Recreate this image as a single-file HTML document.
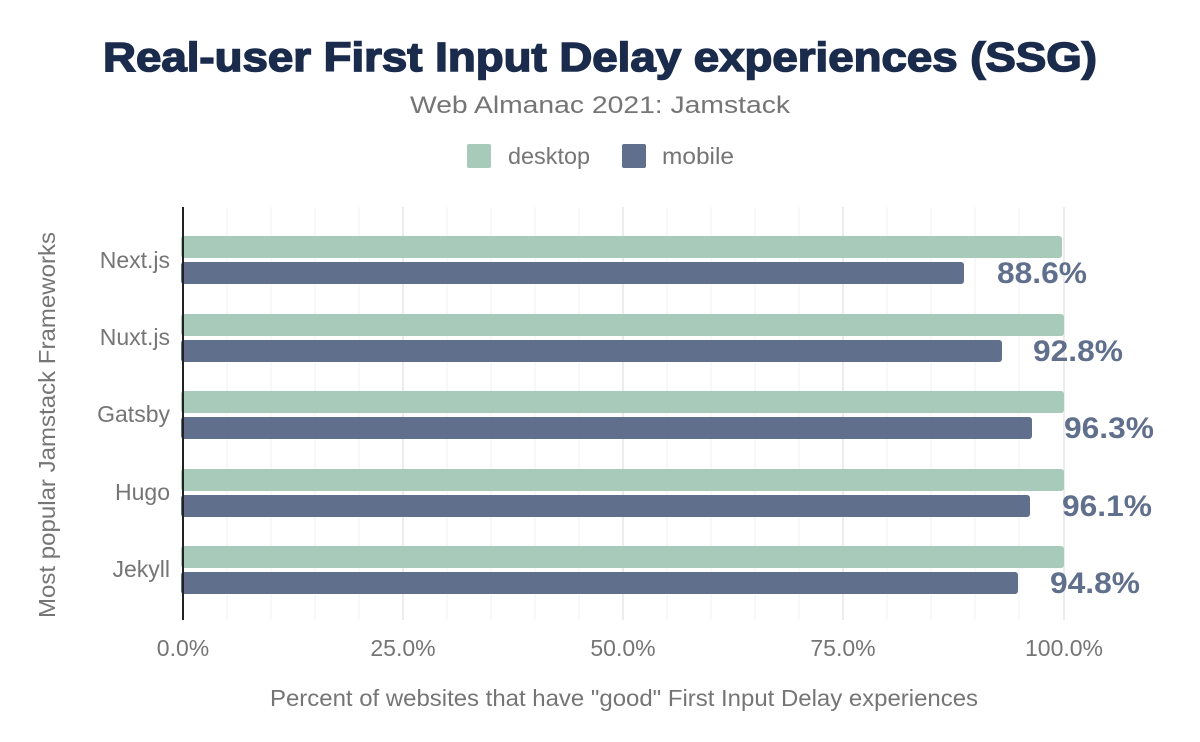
<!DOCTYPE html>
<html><head><style>body{margin:0;background:#fff}svg{display:block}</style></head><body>
<svg width="1200" height="742" xmlns="http://www.w3.org/2000/svg" font-family="Liberation Sans, sans-serif">
<rect width="1200" height="742" fill="#fff"/>
<text x="600" y="71" text-anchor="middle" font-size="41" font-weight="bold" fill="#1a2b4c" textLength="994" lengthAdjust="spacingAndGlyphs" stroke="#1a2b4c" stroke-width="1.5">Real-user First Input Delay experiences (SSG)</text>
<text x="600" y="113" text-anchor="middle" font-size="24" fill="#757575" textLength="380" lengthAdjust="spacingAndGlyphs">Web Almanac 2021: Jamstack</text>
<rect x="467" y="144" width="24" height="24" rx="2" fill="#a8cabb"/>
<text x="508" y="164" font-size="23" fill="#757575" textLength="82" lengthAdjust="spacingAndGlyphs">desktop</text>
<rect x="622" y="144" width="24" height="24" rx="2" fill="#5f6f8c"/>
<text x="662" y="164" font-size="23" fill="#757575" textLength="72" lengthAdjust="spacingAndGlyphs">mobile</text>
<g stroke="#f0f0f0" stroke-width="1">
<line x1="227" y1="207" x2="227" y2="620"/><line x1="271" y1="207" x2="271" y2="620"/><line x1="315" y1="207" x2="315" y2="620"/><line x1="359" y1="207" x2="359" y2="620"/>
<line x1="447" y1="207" x2="447" y2="620"/><line x1="491" y1="207" x2="491" y2="620"/><line x1="535" y1="207" x2="535" y2="620"/><line x1="579" y1="207" x2="579" y2="620"/>
<line x1="667" y1="207" x2="667" y2="620"/><line x1="711" y1="207" x2="711" y2="620"/><line x1="755" y1="207" x2="755" y2="620"/><line x1="799" y1="207" x2="799" y2="620"/>
<line x1="887" y1="207" x2="887" y2="620"/><line x1="931" y1="207" x2="931" y2="620"/><line x1="975" y1="207" x2="975" y2="620"/><line x1="1019" y1="207" x2="1019" y2="620"/>
</g>
<g stroke="#e6e6e6" stroke-width="1.5">
<line x1="403" y1="207" x2="403" y2="620"/><line x1="623" y1="207" x2="623" y2="620"/><line x1="843" y1="207" x2="843" y2="620"/><line x1="1064" y1="207" x2="1064" y2="620"/>
</g>
<g fill="#a8cabb">
<rect x="181" y="236" width="881" height="22" rx="3"/>
<rect x="181" y="314" width="883" height="22" rx="3"/>
<rect x="181" y="391" width="883" height="22" rx="3"/>
<rect x="181" y="469" width="883" height="22" rx="3"/>
<rect x="181" y="546" width="883" height="22" rx="3"/>
</g>
<g fill="#5f6f8c">
<rect x="181" y="262" width="783" height="22" rx="3"/>
<rect x="181" y="340" width="821" height="22" rx="3"/>
<rect x="181" y="417" width="851" height="22" rx="3"/>
<rect x="181" y="495" width="849" height="22" rx="3"/>
<rect x="181" y="572" width="837" height="22" rx="3"/>
</g>
<line x1="183" y1="207" x2="183" y2="620" stroke="#222" stroke-width="2"/>
<g font-size="30" font-weight="bold" fill="#5f6f8c">
<text x="997" y="283" textLength="90" lengthAdjust="spacingAndGlyphs">88.6%</text>
<text x="1033" y="361" textLength="90" lengthAdjust="spacingAndGlyphs">92.8%</text>
<text x="1064" y="438" textLength="90" lengthAdjust="spacingAndGlyphs">96.3%</text>
<text x="1062" y="516" textLength="90" lengthAdjust="spacingAndGlyphs">96.1%</text>
<text x="1050" y="593" textLength="90" lengthAdjust="spacingAndGlyphs">94.8%</text>
</g>
<g font-size="23" fill="#757575" text-anchor="end">
<text x="170" y="268">Next.js</text>
<text x="170" y="345">Nuxt.js</text>
<text x="170" y="422">Gatsby</text>
<text x="170" y="500">Hugo</text>
<text x="170" y="577">Jekyll</text>
</g>
<g font-size="23" fill="#757575" text-anchor="middle">
<text x="183" y="656">0.0%</text>
<text x="403" y="656">25.0%</text>
<text x="623" y="656">50.0%</text>
<text x="843" y="656">75.0%</text>
<text x="1064" y="656">100.0%</text>
<text x="624" y="706" font-size="23" textLength="708" lengthAdjust="spacingAndGlyphs">Percent of websites that have "good" First Input Delay experiences</text>
<text transform="translate(55,425) rotate(-90)" textLength="386" lengthAdjust="spacingAndGlyphs">Most popular Jamstack Frameworks</text>
</g>
</svg>
</body></html>
